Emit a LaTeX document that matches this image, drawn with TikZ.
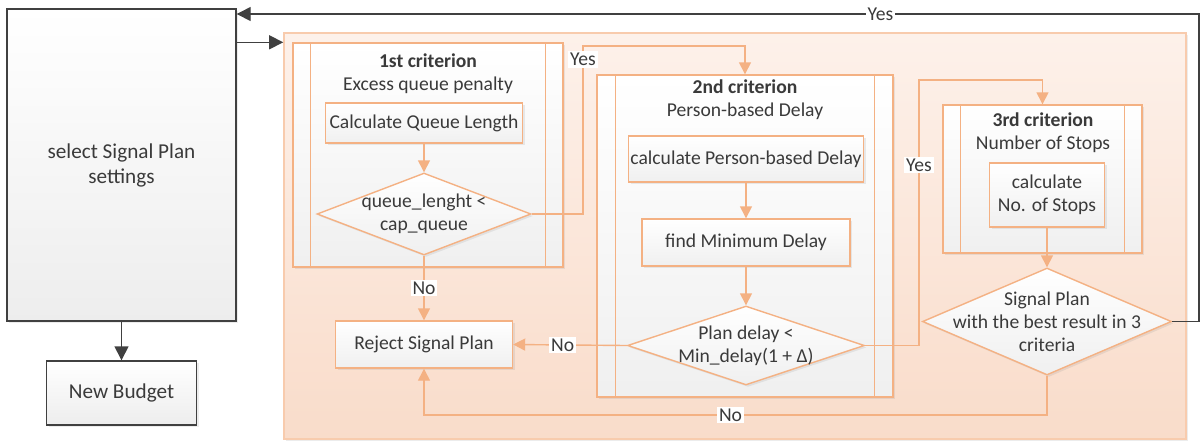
\documentclass[tikz,border=0pt]{standalone}
\usepackage{fontspec}
\setmainfont{Carlito}
\usetikzlibrary{shapes.geometric, arrows.meta, positioning, shadows}
\definecolor{pline}{HTML}{F4B183}
\definecolor{pedge}{HTML}{F8CBAD}
\definecolor{ptop}{HTML}{FDF1EA}
\definecolor{pbot}{HTML}{F9DCCA}
\definecolor{dgrey}{HTML}{404040}
\definecolor{tgrey}{HTML}{3A3A3A}
\tikzset{
  base/.style={font=\fontsize{9.8pt}{11.5pt}\selectfont, text=tgrey, align=center, inner sep=0pt},
  soft/.style={drop shadow={shadow xshift=1pt, shadow yshift=-1pt, opacity=0.15}},
  box/.style={base, rectangle, draw=pline, line width=0.7pt, top color=white, bottom color=black!6, soft},
  gbox/.style={box, draw=dgrey, bottom color=black!7, font=\fontsize{10.6pt}{12.5pt}\selectfont},
  decision/.style={base, diamond, draw=pline, line width=0.7pt, top color=white, bottom color=black!6, soft},
  frame/.style={rectangle, draw=pedge, line width=0.8pt, top color=ptop, bottom color=pbot, soft},
  flow/.style={-{Triangle[length=6pt, width=6pt]}, draw=pline, line width=0.7pt},
  darkflow/.style={-{Triangle[length=7pt, width=7pt]}, draw=dgrey, line width=0.7pt},
  lbl/.style={base, fill=white, inner sep=1pt}
}
\begin{document}
\begin{tikzpicture}[x=0.5pt, y=-0.5pt]
  \useasboundingbox (0,0) rectangle (1200,441);

  \node[gbox, minimum width=114.5pt, minimum height=156pt] (sel) at (121.5,165) {select Signal Plan\\settings};
  \node[gbox, minimum width=75pt, minimum height=32pt] (budget) at (121.5,393) {New Budget};

  \node[frame, minimum width=451pt, minimum height=203pt] (cont) at (735,236) {};

  \node[box, minimum width=135pt, minimum height=112pt] (c1) at (428,155) {};
  \node[box, minimum width=148pt, minimum height=161pt] (c2) at (745,236) {};
  \node[box, minimum width=99.5pt, minimum height=74pt] (c3) at (1042.5,179) {};
  \foreach \n/\d in {c1/9pt, c2/9.5pt, c3/9pt} {
    \draw[pline, line width=0.7pt] ([xshift=\d]\n.north west) -- ([xshift=\d]\n.south west);
    \draw[pline, line width=0.7pt] ([xshift=-\d]\n.north east) -- ([xshift=-\d]\n.south east);
  }

  \node[base] (t1) at (428,74) {\textbf{1st criterion}\\Excess queue penalty};
  \node[base] (t2) at (745,100) {\textbf{2nd criterion}\\Person-based Delay};
  \node[base] (t3) at (1043,133) {\textbf{3rd criterion}\\Number of Stops};

  \node[box, minimum width=98.5pt, minimum height=20pt] (q1) at (424,123) {Calculate Queue Length};
  \node[decision, minimum width=107pt, minimum height=41pt,
        label={[base]center:{queue\_lenght <\\cap\_queue}}] (d1) at (424,214) {};
  \node[box, minimum width=88.5pt, minimum height=23.5pt] (rej) at (424,344.5) {Reject Signal Plan};

  \node[box, minimum width=117.5pt, minimum height=23pt] (p2) at (746,159) {calculate Person-based Delay};
  \node[box, minimum width=104pt, minimum height=23.5pt] (m2) at (746,242.5) {find Minimum Delay};
  \node[decision, minimum width=118.5pt, minimum height=39.5pt,
        label={[base]center:{Plan delay <\\Min\_delay(1 + Δ)}}] (d2) at (746,345.5) {};

  \node[box, minimum width=57.5pt, minimum height=32pt] (s3) at (1047,195) {calculate\\No. of Stops};
  \node[decision, minimum width=124.5pt, minimum height=53.5pt,
        label={[base]center:{Signal Plan\\with the best result in 3\\criteria}}] (d3) at (1047,321.5) {};

  \coordinate (yesR) at (1199,14);
  \coordinate (y1) at (583,46);
  \coordinate (y2) at (919,80);
  \coordinate (nb) at (424,415);

  \draw[darkflow] (sel.south) -- (budget.north);
  \draw[darkflow] (sel.east |- c1.north) -- (cont.west |- c1.north);
  \draw[darkflow] (d3.east) -| (yesR) -- (yesR -| sel.east) node[lbl, pos=0.331] {Yes};

  \draw[flow] (q1.south) -- (d1.north);
  \draw[flow] (d1.east) -| (y1) node[lbl, pos=0.96] {Yes} -| (c2.north);
  \draw[flow] (d1.south) -- (rej.north) node[lbl, midway] {No};
  \draw[flow] (p2.south) -- (m2.north);
  \draw[flow] (m2.south) -- (d2.north);
  \draw[flow] (d2.west) -- (rej.east) node[lbl, pos=0.565] {No};
  \draw[flow] (d2.east) -| (y2) node[lbl, pos=0.84] {Yes} -| (c3.north);
  \draw[flow] (s3.south) -- (d3.north);
  \draw[flow] (d3.south) |- (nb) node[lbl, pos=0.754] {No} -- (rej.south);
\end{tikzpicture}
\end{document}
